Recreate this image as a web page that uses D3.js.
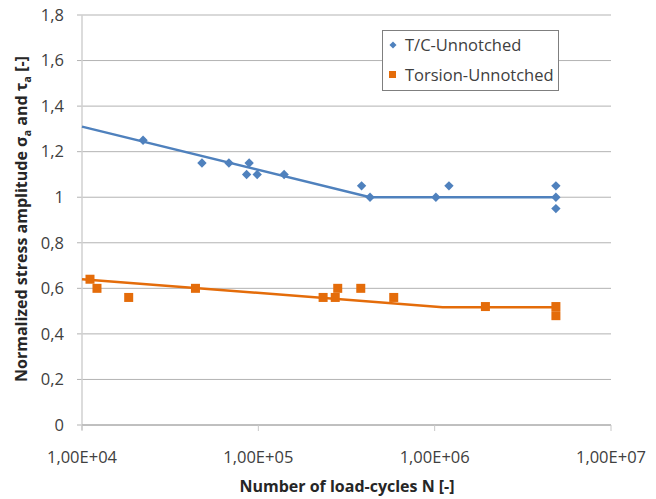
<!DOCTYPE html>
<html><head><meta charset="utf-8">
<script src="https://cdn.jsdelivr.net/npm/d3@7"></script>
<style>body{margin:0;background:#fff}svg{display:block}text{font-family:"Open Sans",sans-serif}</style>
</head><body><svg id="c" width="656" height="499"></svg>
<script>
// T/C-Unnotched data
const tcN = [22200, 47900, 68100, 88700, 85800, 98500, 140000, 385000, 430000, 1016000, 1205000, 4870000, 4870000, 4870000];
const tcS = [1.25, 1.15, 1.15, 1.15, 1.10, 1.10, 1.10, 1.05, 1.00, 1.00, 1.05, 1.05, 1.00, 0.95];
const tcLineN = [10000, 430000, 4870000];
const tcLineS = [1.31, 1.00, 1.00];
// Torsion-Unnotched data
const toN = [11100, 12160, 18400, 44000, 233000, 273000, 282000, 381000, 586000, 1940000, 4870000, 4870000];
const toS = [0.64, 0.60, 0.56, 0.60, 0.56, 0.56, 0.60, 0.60, 0.56, 0.52, 0.52, 0.48];
const toLineN = [10000, 1110000, 4870000];
const toLineS = [0.64, 0.517, 0.517];
const yTicks = [0, 0.2, 0.4, 0.6, 0.8, 1, 1.2, 1.4, 1.6, 1.8];
const xTicks = [1e4, 1e5, 1e6, 1e7];
const seriesNames = ["T/C-Unnotched", "Torsion-Unnotched"];

const blue = "#4F81BD", orange = "#E46C0A";
const svg = d3.select("#c");
const x = d3.scaleLog().domain([1e4, 1e7]).range([82, 611]);
const y = d3.scaleLinear().domain([0, 1.8]).range([425, 15]);

// gridlines
svg.append("g").selectAll("line").data(yTicks).join("line")
  .attr("x1", 77).attr("x2", 611).attr("y1", d => y(d)).attr("y2", d => y(d))
  .attr("stroke", "#B3B3B3").attr("stroke-width", 1);
// left axis
svg.append("line").attr("x1", 82).attr("x2", 82).attr("y1", 15).attr("y2", 430)
  .attr("stroke", "#D0D0D0").attr("stroke-width", 1.5);
// bottom axis
svg.append("line").attr("x1", 82).attr("x2", 611).attr("y1", y(0)).attr("y2", y(0))
  .attr("stroke", "#A6A6A6").attr("stroke-width", 1);
svg.append("g").selectAll("line").data(xTicks).join("line")
  .attr("x1", d => x(d)).attr("x2", d => x(d)).attr("y1", y(0)).attr("y2", y(0) + 6)
  .attr("stroke", "#C8C8C8").attr("stroke-width", 1);

// y tick labels
const fmtY = d => d3.format("~g")(d).replace(".", ",");
svg.append("g").selectAll("text").data(yTicks).join("text")
  .attr("x", 64).attr("y", d => y(d)).attr("dy", "0.35em").attr("text-anchor", "end")
  .attr("font-size", 16.5).attr("fill", "#404040").text(fmtY);
// x tick labels
svg.append("g").selectAll("text").data(xTicks).join("text")
  .attr("x", d => x(d)).attr("y", 457).attr("dy", "0.35em").attr("text-anchor", "middle")
  .attr("font-size", 16.5).attr("fill", "#404040")
  .text(d => d.toExponential(2).replace(".", ",").replace("e+", "E+0").toUpperCase());

// titles
svg.append("text").attr("x", 347).attr("y", 486).attr("dy", "0.35em").attr("text-anchor", "middle")
  .attr("font-size", 16).attr("font-weight", "bold").attr("fill", "#262626").text("Number of load-cycles N [-]");
const yt = svg.append("text").attr("transform", "translate(27,382) rotate(-90)")
  .attr("text-anchor", "start")
  .attr("font-size", 16).attr("font-weight", "bold").attr("fill", "#262626");
yt.append("tspan").text("Normalized stress amplitude \u03C3");
yt.append("tspan").attr("font-size", 11).attr("dy", "4").text("a");
yt.append("tspan").attr("dy", "-4").text(" and \u03C4");
yt.append("tspan").attr("font-size", 11).attr("dy", "4").text("a");
yt.append("tspan").attr("dy", "-4").text(" [-]");

// lines
const line = d3.line().x(d => x(d[0])).y(d => y(d[1]));
svg.append("path").datum(d3.zip(tcLineN, tcLineS)).attr("d", line)
  .attr("fill", "none").attr("stroke", blue).attr("stroke-width", 2.5);
svg.append("path").datum(d3.zip(toLineN, toLineS)).attr("d", line)
  .attr("fill", "none").attr("stroke", orange).attr("stroke-width", 2.5);

// markers
const diamond = d3.symbol().type(d3.symbolDiamond2).size(56);
svg.append("g").selectAll("path").data(d3.zip(tcN, tcS)).join("path")
  .attr("d", diamond).attr("transform", d => `translate(${x(d[0])},${y(d[1])})`)
  .attr("fill", blue);
svg.append("g").selectAll("rect").data(d3.zip(toN, toS)).join("rect")
  .attr("x", d => x(d[0]) - 4.5).attr("y", d => y(d[1]) - 4.5).attr("width", 9).attr("height", 9)
  .attr("fill", orange);

// legend
const lg = svg.append("g");
lg.append("rect").attr("x", 382.5).attr("y", 30.5).attr("width", 176).attr("height", 60)
  .attr("fill", "#fff").attr("stroke", "#7F7F7F").attr("stroke-width", 1);
lg.append("path").attr("d", d3.symbol().type(d3.symbolDiamond2).size(32)())
  .attr("transform", "translate(393,45)").attr("fill", blue);
lg.append("rect").attr("x", 389).attr("y", 71).attr("width", 7).attr("height", 7).attr("fill", orange);
lg.selectAll("text.l").data(seriesNames).join("text").attr("class", "l")
  .attr("x", 405).attr("y", (d, i) => 45 + i * 30).attr("dy", "0.35em")
  .attr("font-size", 16.5).attr("fill", "#404040").text(d => d);
</script></body></html>
